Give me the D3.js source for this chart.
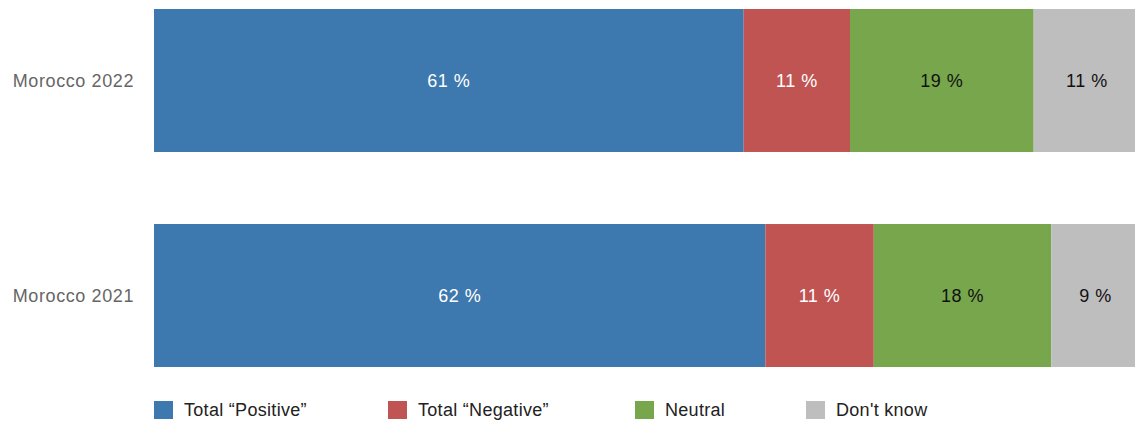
<!DOCTYPE html>
<html>
<head>
<meta charset="utf-8">
<script src="https://cdn.jsdelivr.net/npm/d3@7"></script>
<style>
  html, body { margin: 0; padding: 0; background: #fff; overflow: hidden; }
  svg { display: block; font-family: "Liberation Sans", Arial, Helvetica, sans-serif; }
</style>
</head>
<body>
<svg id="chart" width="1135" height="421"></svg>
<script>
// Survey rows and answer shares (%)
const rows = ["Morocco 2022", "Morocco 2021"];
const seriesNames = ["Total \u201cPositive\u201d", "Total \u201cNegative\u201d", "Neutral", "Don't know"];
const positive = [61, 62];
const negative = [11, 11];
const neutral  = [19, 18];
const dontKnow = [11, 9];

const colors = ["#3d78ae", "#c05453", "#78a64c", "#bebebe"];
const labelColors = ["#ffffff", "#ffffff", "#111111", "#111111"];

const svg = d3.select("#chart");
const left = 154, right = 1140;

const y = d3.scaleBand().domain(rows).range([9, 367]).paddingInner(0.335);

const table = rows.map((r, i) => {
  const vals = [positive[i], negative[i], neutral[i], dontKnow[i]];
  return { row: r, vals, total: d3.sum(vals) };
});

table.forEach(d => {
  // each row spans the full width, shares normalised by the row total
  const x = d3.scaleLinear().domain([0, d.total]).range([left, right]);
  let acc = 0;
  const segs = d.vals.map((v, k) => { const s = { k, v, x0: acc, x1: acc + v }; acc += v; return s; });
  const g = svg.append("g");
  g.selectAll("rect").data(segs).join("rect")
    .attr("x", s => x(s.x0))
    .attr("width", s => x(s.x1) - x(s.x0))
    .attr("y", y(d.row))
    .attr("height", y.bandwidth())
    .attr("fill", s => colors[s.k]);
  g.selectAll("text").data(segs).join("text")
    .attr("x", s => (x(s.x0) + x(s.x1)) / 2)
    .attr("y", y(d.row) + y.bandwidth() / 2)
    .attr("dy", "0.35em")
    .attr("text-anchor", "middle")
    .attr("font-size", 18)
    .attr("letter-spacing", 0.5)
    .attr("fill", s => labelColors[s.k])
    .text(s => s.v + " %");
});

// row labels
svg.append("g").selectAll("text").data(rows).join("text")
  .attr("x", 134)
  .attr("y", r => y(r) + y.bandwidth() / 2)
  .attr("dy", "0.35em")
  .attr("text-anchor", "end")
  .attr("font-size", 18)
  .attr("letter-spacing", 0.6)
  .attr("fill", "#666")
  .text(r => r);

// legend
const legendX = [154, 388, 635, 806];
const lg = svg.append("g").selectAll("g").data(seriesNames).join("g")
  .attr("transform", (n, i) => `translate(${legendX[i]},401)`);
lg.append("rect").attr("width", 19).attr("height", 18).attr("fill", (n, i) => colors[i]);
lg.append("text").attr("x", 30).attr("y", 9).attr("dy", "0.35em")
  .attr("font-size", 18).attr("letter-spacing", 0.3)
  .attr("fill", "#222").text(n => n);
</script>
</body>
</html>
